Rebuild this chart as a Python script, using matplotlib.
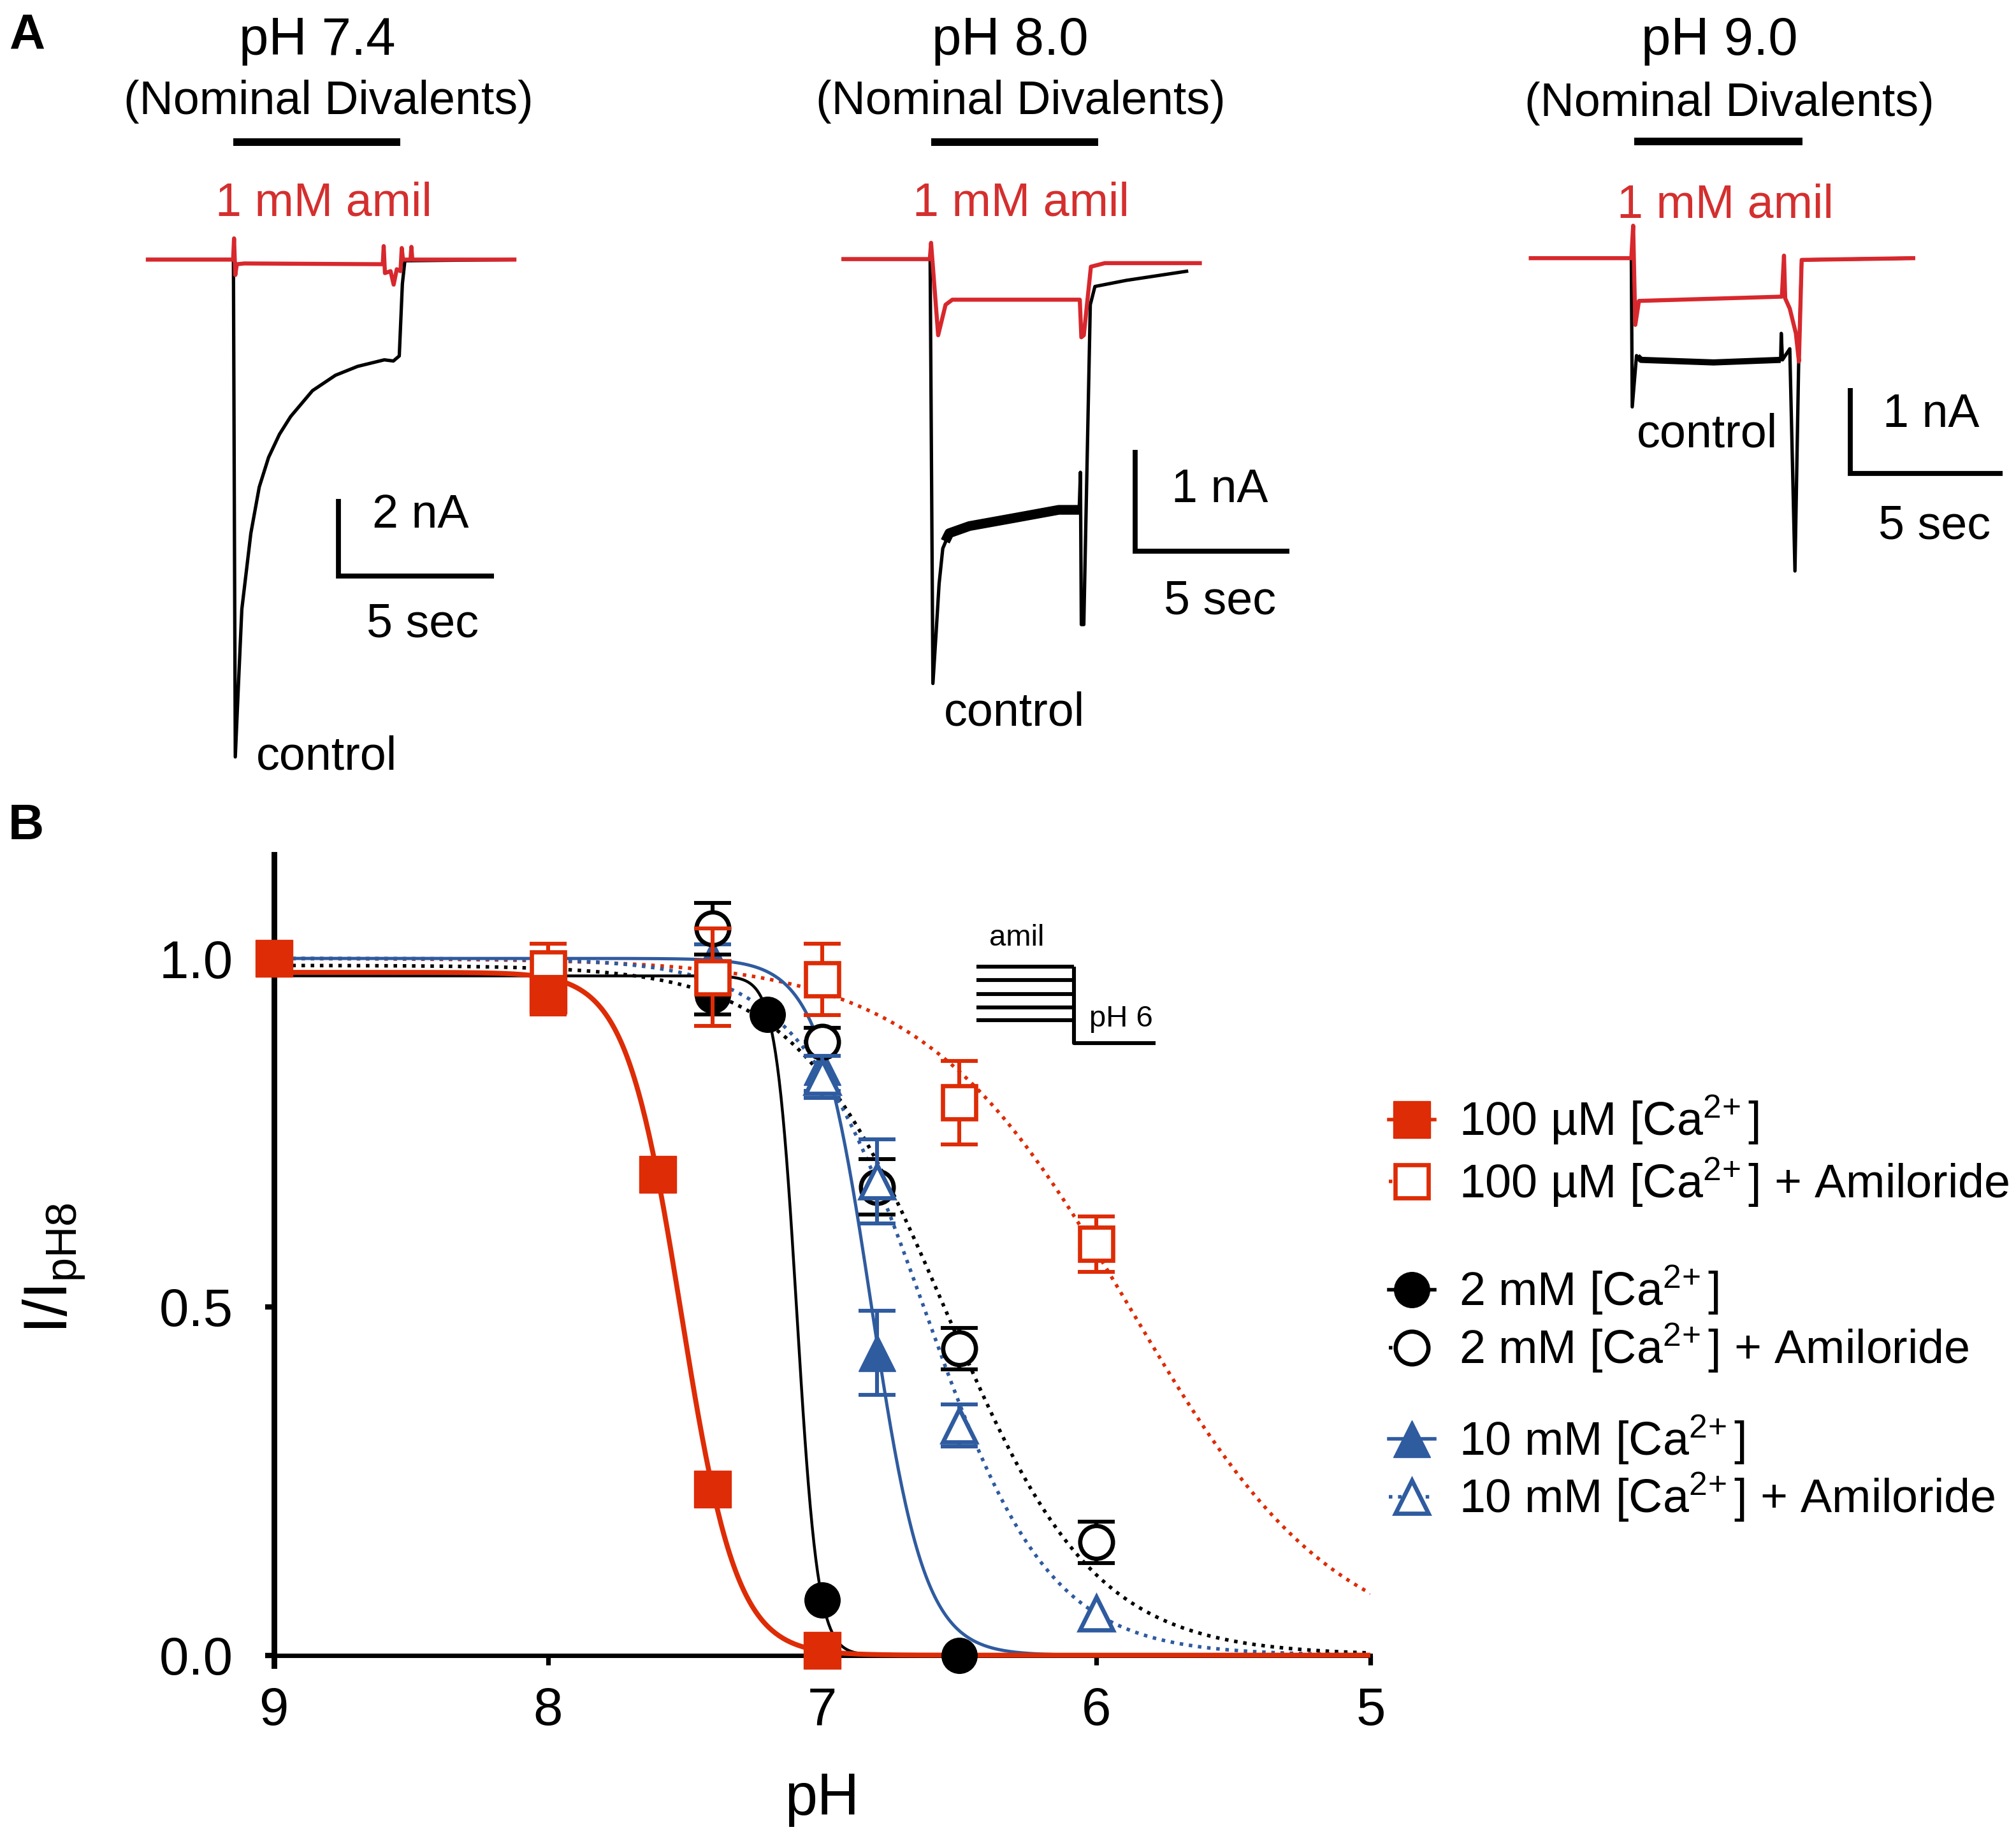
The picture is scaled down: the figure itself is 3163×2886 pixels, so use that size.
import numpy as np
import matplotlib
matplotlib.use("Agg")
import matplotlib.pyplot as plt

plt.rcParams.update({
    "font.family": ["Liberation Sans", "DejaVu Sans"],
    "mathtext.fontset": "custom",
    "mathtext.rm": "Liberation Sans",
    "mathtext.it": "Liberation Sans:italic",
    "mathtext.bf": "Liberation Sans:bold",
    "mathtext.default": "regular",
})

RED = "#DD2C06"
RED_TRACE = "#D7282D"
RED_TEXT = "#D42F2F"
BLUE = "#2F5B9F"

# ============================================================
# Panel A data: whole-cell currents (time in s, current in nA)
# ============================================================
# pH 7.4
T74_BLACK = [0, 2.75, 2.81, 2.91, 3.02, 3.31, 3.58, 3.88, 4.23, 4.59, 5.29, 6.03,
             6.74, 7.6, 7.89, 8.08, 8.18, 8.26, 11.78]
I74_BLACK = [0, 0, -12.9, -11.05, -9.07, -7.1, -5.9, -5.13, -4.53, -4.07, -3.4, -3.0,
             -2.77, -2.6, -2.63, -2.5, -0.63, -0.03, 0]
T74_RED = [0, 2.74, 2.77, 2.81, 2.86, 3.1, 7.55, 7.58, 7.62, 7.8, 7.9, 8.0, 8.12,
           8.16, 8.2, 8.44, 8.47, 8.5, 11.78]
I74_RED = [0, 0, 0.55, -0.4, -0.12, -0.1, -0.12, 0.35, -0.35, -0.3, -0.65, -0.25, -0.3,
           0.3, 0.0, 0.0, 0.33, 0.0, 0]

# pH 8.0
T80_BLACK = [0, 2.81, 2.9, 3.0, 3.1, 3.22, 3.43, 4.08, 5.54, 6.98, 7.64, 7.68, 7.71,
             7.79, 8.0, 8.15, 9.16, 11.12]
I80_BLACK = [0, 0, -4.18, -3.7, -3.2, -2.85, -2.7, -2.63, -2.55, -2.47, -2.47, -2.1, -3.6,
             -3.6, -0.45, -0.27, -0.21, -0.12]
T80_PLATEAU = [3.3, 3.43, 4.08, 5.54, 6.98, 7.64]
I80_PLATEAU = [-2.78, -2.7, -2.63, -2.55, -2.47, -2.47]
T80_RED = [0, 2.8, 2.84, 3.07, 3.31, 3.53, 7.66, 7.71, 7.79, 8.02, 8.47, 11.55]
I80_RED = [0, 0, 0.16, -0.75, -0.45, -0.4, -0.4, -0.77, -0.75, -0.075, -0.04, -0.04]

# pH 9.0
T90_BLACK = [0, 3.30, 3.33, 3.47, 3.62, 6.0, 8.20, 8.22, 8.26, 8.50, 8.67, 8.79, 8.89, 12.55]
I90_BLACK = [0, 0, -1.74, -1.14, -1.19, -1.22, -1.19, -0.88, -1.19, -1.06, -3.66, -1.26,
             -0.02, 0]
T90_PLATEAU = [3.5, 3.62, 6.0, 8.2]
I90_PLATEAU = [-1.15, -1.19, -1.22, -1.19]
T90_RED = [0, 3.3, 3.36, 3.43, 3.55, 8.24, 8.31, 8.35, 8.5, 8.7, 8.8, 8.89, 12.55]
I90_RED = [0, 0, 0.38, -0.78, -0.5, -0.45, 0.03, -0.47, -0.59, -0.88, -1.21, -0.02, 0]

# ============================================================
# Panel B data: I/I_pH8 vs pH (mean, SEM) and Hill fit parameters
# ============================================================
PH_100 = [9.0, 8.0, 7.6, 7.4, 7.0]
Y_100 = [1.0, 0.947, 0.69, 0.238, 0.007]
E_100 = [0.0, 0.027, 0.0, 0.0, 0.0]

PH_100A = [8.0, 7.4, 7.0, 6.5, 6.0]
Y_100A = [0.985, 0.973, 0.97, 0.793, 0.59]
E_100A = [0.036, 0.07, 0.051, 0.06, 0.04]

PH_2 = [7.4, 7.2, 7.0, 6.5]
Y_2 = [0.947, 0.92, 0.079, 0.0]
E_2 = [0.027, 0.0, 0.0, 0.0]

PH_2A = [7.4, 7.0, 6.8, 6.5, 6.0]
Y_2A = [1.043, 0.88, 0.672, 0.44, 0.162]
E_2A = [0.037, 0.02, 0.04, 0.03, 0.03]

PH_10 = [7.4, 7.0, 6.8]
Y_10 = [1.0, 0.845, 0.434]
E_10 = [0.02, 0.035, 0.06]

PH_10A = [7.0, 6.8, 6.5, 6.0]
Y_10A = [0.83, 0.68, 0.33, 0.06]
E_10A = [0.03, 0.06, 0.03, 0.0]

# Hill fits: (top, pH50, n)
FIT_100 = (0.98, 7.514, 4.3)
FIT_100A = (1.0, 5.88, 1.15)
FIT_2 = (0.975, 7.092, 11.4)
FIT_2A = (0.99, 6.55, 1.6)
FIT_10 = (1.0, 6.82, 4.5)
FIT_10A = (1.0, 6.63, 1.9)

CA = r"[Ca$^{2\!+}$]"
LABELS = ["100 µM " + CA, "100 µM " + CA + " + Amiloride",
          "2 mM " + CA, "2 mM " + CA + " + Amiloride",
          "10 mM " + CA, "10 mM " + CA + " + Amiloride"]


def hill(ph, top, ph50, n):
    return top / (1.0 + 10.0 ** (n * (ph50 - ph)))


# ============================================================
# Figure layout (positions on a 1568 x 1431 grid)
# ============================================================
GW, GH = 1568.0, 1431.0
fig = plt.figure(figsize=(15.815, 14.43), dpi=200)


def fig_box(x0, y0, x1, y1):
    return [x0 / GW, 1 - y1 / GH, (x1 - x0) / GW, (y1 - y0) / GH]


overlay = fig.add_axes([0, 0, 1, 1])
overlay.set_xlim(0, GW)
overlay.set_ylim(GH, 0)
overlay.axis("off")

# ---------------- Panel A ----------------
traces = [
    dict(box=(95, 95, 420, 625), t0=115, base=202, px_s=24.2, px_na=30.0,
         black=(T74_BLACK, I74_BLACK), red=(T74_RED, I74_RED), plateau=None,
         bar=(263, 448), nA=2),
    dict(box=(640, 95, 1030, 560), t0=656, base=201.6, px_s=24.0, px_na=79.0,
         black=(T80_BLACK, I80_BLACK), red=(T80_RED, I80_RED),
         plateau=(T80_PLATEAU, I80_PLATEAU, 5.5), bar=(882.8, 429), nA=1),
    dict(box=(1180, 95, 1568, 470), t0=1190.6, base=200.9, px_s=23.7, px_na=66.5,
         black=(T90_BLACK, I90_BLACK), red=(T90_RED, I90_RED),
         plateau=(T90_PLATEAU, I90_PLATEAU, 3.5), bar=(1439.3, 368.5), nA=1),
]

for tr in traces:
    x0, y0, x1, y1 = tr["box"]
    ax = fig.add_axes(fig_box(x0, y0, x1, y1))
    ax.set_xlim((x0 - tr["t0"]) / tr["px_s"], (x1 - tr["t0"]) / tr["px_s"])
    ax.set_ylim(-(y1 - tr["base"]) / tr["px_na"], -(y0 - tr["base"]) / tr["px_na"])
    ax.axis("off")
    ax.plot(*tr["black"], color="black", lw=1.9, solid_joinstyle="round")
    if tr["plateau"] is not None:
        pt, pi, plw = tr["plateau"]
        ax.plot(pt, pi, color="black", lw=plw, solid_capstyle="butt")
    ax.plot(*tr["red"], color=RED_TRACE, lw=2.3, solid_joinstyle="round")
    # scale bar: 5 s x nA
    bt = (tr["bar"][0] - tr["t0"]) / tr["px_s"]
    bi = -(tr["bar"][1] - tr["base"]) / tr["px_na"]
    ax.plot([bt, bt, bt + 5], [bi + tr["nA"], bi, bi], color="black", lw=2.8,
            solid_joinstyle="miter", solid_capstyle="butt")

# application bars and labels
for xa, xb, yb in [(181.6, 311.3, 110.7), (724.5, 854.2, 110.7), (1271.3, 1401.9, 110)]:
    overlay.plot([xa, xb], [yb, yb], color="black", lw=4.3, solid_capstyle="butt")

for s, x, y in [("pH 7.4", 247, 31.6), ("pH 8.0", 785.4, 31.6), ("pH 9.0", 1337.4, 31.6)]:
    overlay.text(x, y, s, ha="center", va="center", fontsize=30)
for x, y in [(255.6, 79), (794, 79), (1345, 80.7)]:
    overlay.text(x, y, "(Nominal Divalents)", ha="center", va="center", fontsize=26.5)
for x, y in [(252, 158), (794, 158), (1342, 159.7)]:
    overlay.text(x, y, "1 mM amil", ha="center", va="center", fontsize=26.5, color=RED_TEXT)
for x, y in [(254, 589), (789, 555), (1328, 338)]:
    overlay.text(x, y, "control", ha="center", va="center", fontsize=26.5)
for s, x, y in [("2 nA", 327, 401), ("5 sec", 328.7, 486), ("1 nA", 948.8, 381),
                ("5 sec", 948.8, 468), ("1 nA", 1501.8, 322.6), ("5 sec", 1504.8, 409.6)]:
    overlay.text(x, y, s, ha="center", va="center", fontsize=26.5)

overlay.text(21, 27.7, "A", ha="center", va="center", fontsize=28, fontweight="bold")
overlay.text(20, 643, "B", ha="center", va="center", fontsize=28, fontweight="bold")

# ---------------- Panel B ----------------
axB = fig.add_axes(fig_box(213, 665, 1066, 1296))
axB.set_facecolor("none")
axB.set_xlim(9, 5)
axB.set_ylim(-0.0148, 1.149)
for side in ["top", "right"]:
    axB.spines[side].set_visible(False)
axB.spines["bottom"].set_position(("data", 0))
axB.spines["left"].set_linewidth(3.2)
axB.spines["bottom"].set_linewidth(2.5)
axB.set_xticks([9, 8, 7, 6, 5])
axB.set_xticklabels(["9", "8", "7", "6", "5"])
axB.set_yticks([0, 0.5, 1.0])
axB.set_yticklabels(["0.0", "0.5", "1.0"])
axB.tick_params(axis="x", length=5.4, width=2.6, pad=12, labelsize=30)
axB.tick_params(axis="y", length=5, width=3, pad=18, labelsize=30)
axB.set_xlabel("pH", fontsize=33)
axB.xaxis.set_label_coords(0.5, -0.165)
axB.xaxis.label.set_va("center")
axB.set_ylabel(r"I/I$_{pH8}$", fontsize=35)
axB.yaxis.set_label_coords(-0.2, 0.49)
axB.yaxis.label.set_va("center")

ph_grid = np.linspace(9, 5, 600)
dot = (0, (1, 1.6))
axB.plot(ph_grid, hill(ph_grid, *FIT_100A), color=RED, lw=2.0, ls=dot, zorder=2)
axB.plot(ph_grid, hill(ph_grid, *FIT_2A), color="black", lw=2.0, ls=dot, zorder=2)
axB.plot(ph_grid, hill(ph_grid, *FIT_10A), color=BLUE, lw=2.0, ls=dot, zorder=2)
axB.plot(ph_grid, hill(ph_grid, *FIT_2), color="black", lw=1.6, zorder=3)
axB.plot(ph_grid, hill(ph_grid, *FIT_10), color=BLUE, lw=1.8, zorder=3)
axB.plot(ph_grid, hill(ph_grid, *FIT_100), color=RED, lw=2.8, zorder=3.2)

series = [
    (PH_2, Y_2, E_2, "black", dict(marker="o", ms=20, mfc="black", mec="black", mew=0.5)),
    (PH_10, Y_10, E_10, BLUE, dict(marker="^", ms=21, mfc=BLUE, mec=BLUE, mew=0.5)),
    (PH_2A, Y_2A, E_2A, "black", dict(marker="o", ms=18.5, mfc="white", mec="black", mew=2.4)),
    (PH_10A, Y_10A, E_10A, BLUE, dict(marker="^", ms=19, mfc="white", mec=BLUE, mew=2.4)),
    (PH_100A, Y_100A, E_100A, RED, dict(marker="s", ms=18.5, mfc="white", mec=RED, mew=2.4)),
    (PH_100, Y_100, E_100, RED, dict(marker="s", ms=21, mfc=RED, mec=RED, mew=0.5)),
]
for k, (ph, y, e, col, mk) in enumerate(series):
    z = 4 + k * 0.2
    ph, y, e = np.array(ph), np.array(y), np.array(e)
    has = e > 0
    if has.any():
        axB.errorbar(ph[has], y[has], yerr=e[has], fmt="none", ecolor=col, elinewidth=2.2,
                     capsize=10.5, capthick=2.2, zorder=z, clip_on=False)
    axB.plot(ph, y, ls="none", zorder=z + 0.1, clip_on=False, **mk)

# protocol schematic
for yl in [0.988, 0.969, 0.949, 0.930, 0.911]:
    axB.plot([6.437, 6.081], [yl, yl], color="black", lw=2.2, solid_capstyle="butt")
axB.plot([6.081, 6.081, 5.785], [0.988, 0.878, 0.878], color="black", lw=2.2,
         solid_capstyle="butt")
axB.text(6.29, 1.0295, "amil", ha="center", va="center", fontsize=17)
axB.text(5.91, 0.913, "pH 6", ha="center", va="center", fontsize=17)

# ---------------- legend (drawn on the overlay) ----------------
leg_rows = [871, 919.5, 1003.6, 1048.7, 1119.8, 1164.8]
leg_marks = [series[5], series[4], series[0], series[2], series[1], series[3]]
leg_ls = ["-", dot, "-", dot, "-", dot]
for yr, (ph, y, e, col, mk), ls, lab in zip(leg_rows, leg_marks, leg_ls, LABELS):
    overlay.plot([1080, 1116], [yr, yr], color=col, lw=2.0, ls=ls)
    overlay.plot([1098], [yr], ls="none", **mk)
    overlay.text(1134.9, yr + 12.5, lab, ha="left", va="baseline", fontsize=26.5)

fig.savefig("out.png", dpi=200)
